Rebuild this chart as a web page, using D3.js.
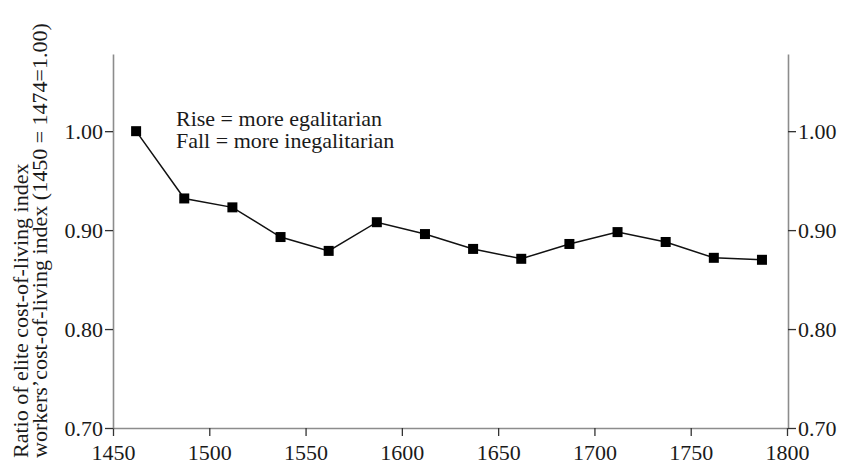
<!DOCTYPE html>
<html><head><meta charset="utf-8">
<script src="https://cdn.jsdelivr.net/npm/d3@7"></script>
<style>
html,body{margin:0;padding:0;background:#fff;}
svg{display:block;}
text{font-family:"Liberation Serif","Times New Roman",serif;fill:#1a1a1a;}
</style></head>
<body>
<svg id="chart" width="846" height="464"></svg>
<script>
const years = [1462,1487,1512,1537,1562,1587,1612,1637,1662,1687,1712,1737,1762,1787];
const ratios = [1.000,0.932,0.923,0.893,0.879,0.908,0.896,0.881,0.871,0.886,0.898,0.888,0.872,0.870];
const xTicks = [1450,1500,1550,1600,1650,1700,1750,1800];
const yTicks = [0.70,0.80,0.90,1.00];
const yLabelLines = ["Ratio of elite cost-of-living index","workers\u2019cost-of-living index (1450 = 1474=1.00)"];
const notes = ["Rise = more egalitarian","Fall = more inegalitarian"];

const svg = d3.select("#chart");
const x = d3.scaleLinear().domain([1450,1800]).range([113,787]);
const y = d3.scaleLinear().domain([0.70,1.078]).range([428,54]);
const axisColor = "#8c8c8c";
const fs = 22;

function styleAxis(g){
  g.selectAll("path.domain").attr("stroke",axisColor).attr("stroke-width",1.6);
  g.selectAll(".tick line").attr("stroke","#333").attr("stroke-width",1.3);
  g.selectAll(".tick text").style("font-family","'Liberation Serif',serif").attr("font-size",fs).attr("fill","#1a1a1a");
}

const gx = svg.append("g").attr("transform","translate(0,428)")
  .call(d3.axisBottom(x).tickValues(xTicks).tickFormat(d3.format("d")).tickSize(8).tickSizeOuter(0).tickPadding(8));
styleAxis(gx);

const gyl = svg.append("g").attr("transform","translate(113,0)")
  .call(d3.axisLeft(y).tickValues(yTicks).tickFormat(d3.format(".2f")).tickSize(8).tickSizeOuter(0).tickPadding(2));
styleAxis(gyl);

const gyr = svg.append("g").attr("transform","translate(788,0)")
  .call(d3.axisRight(y).tickValues(yTicks).tickFormat(d3.format(".2f")).tickSize(8).tickSizeOuter(0).tickPadding(2));
styleAxis(gyr);

const pts = years.map((yr,i)=>[yr,ratios[i]]);
svg.append("path").datum(pts)
  .attr("fill","none").attr("stroke","#111").attr("stroke-width",1.5)
  .attr("d", d3.line().x(d=>x(d[0])).y(d=>y(d[1])));

const ms = 10;
svg.append("g").selectAll("rect").data(pts).join("rect")
  .attr("x",d=>x(d[0])-ms/2).attr("y",d=>y(d[1])-ms/2)
  .attr("width",ms).attr("height",ms).attr("fill","#000");

svg.append("g").selectAll("text").data(notes).join("text")
  .attr("x",176).attr("y",(d,i)=>126+i*22)
  .attr("font-size",fs).text(d=>d);

svg.append("g").selectAll("text").data(yLabelLines).join("text")
  .attr("transform",(d,i)=>`translate(${28+i*19},458) rotate(-90)`)
  .attr("font-size",fs).text(d=>d);
</script>
</body></html>
